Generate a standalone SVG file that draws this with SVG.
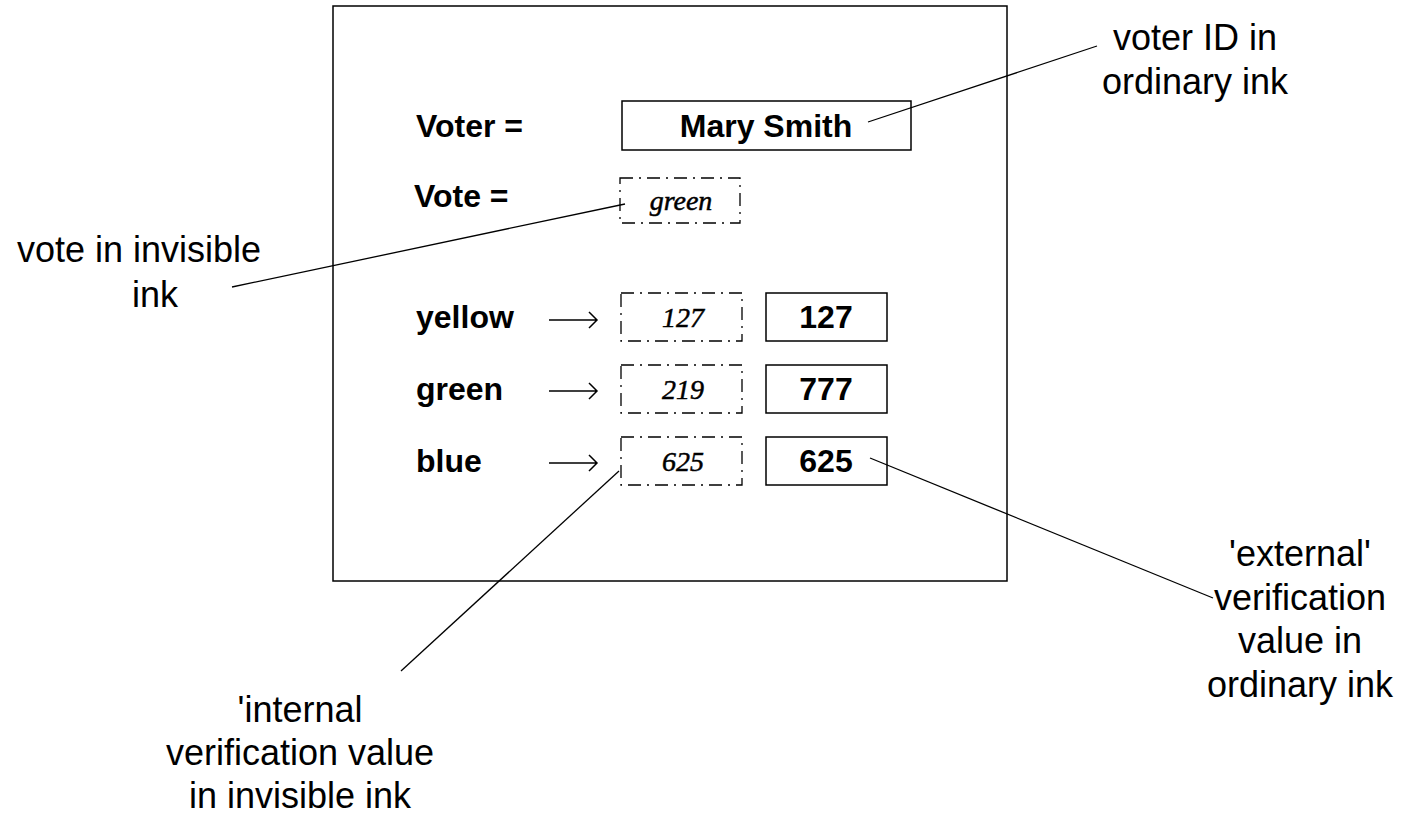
<svg xmlns="http://www.w3.org/2000/svg" width="1410" height="815" viewBox="0 0 1410 815">
  <style>
    .frame { fill: #fff; stroke: #000; stroke-width: 1.5; }
    .solid { fill: #fff; stroke: #000; stroke-width: 1.5; }
    .hidden { fill: none; stroke: #000; stroke-width: 1.3; stroke-dasharray: 13 6 2 6; }
    .lead { fill: none; stroke: #000; stroke-width: 1.3; }
    .arrow { fill: none; stroke: #000; stroke-width: 1.5; }
    .bold { font-family: "Liberation Sans", Arial, sans-serif; font-weight: bold; font-size: 32px; fill: #000; }
    .note { font-family: "Liberation Sans", Arial, sans-serif; font-size: 36px; fill: #000; text-anchor: middle; }
    .ink { font-family: "Liberation Serif", "Times New Roman", serif; font-style: italic; font-size: 28px; fill: #000; stroke: #000; stroke-width: 0.5; text-anchor: middle; }
  </style>
  <rect width="1410" height="815" fill="#fff"/>

  <!-- ballot card -->
  <g id="ballot">
    <rect class="frame" x="333" y="6" width="674" height="575"/>
  </g>

  <g id="voter">
    <text class="bold" x="416" y="137">Voter =</text>
    <rect class="solid" x="622" y="101" width="289" height="49"/>
    <text class="bold" x="766" y="137" text-anchor="middle">Mary Smith</text>
  </g>

  <g id="vote">
    <text class="bold" x="414" y="207">Vote =</text>
    <rect class="hidden" x="620" y="178" width="120" height="45"/>
    <text class="ink" x="681" y="210">green</text>
  </g>

  <g id="row-yellow">
    <text class="bold" x="416" y="328">yellow</text>
    <path class="arrow" d="M549 320 H596 M589 312 L597 320 L589 328"/>
    <rect class="hidden" x="621" y="293" width="121" height="48"/>
    <text class="ink" x="683" y="327">127</text>
    <rect class="solid" x="766" y="293" width="121" height="48"/>
    <text class="bold" x="826" y="328" text-anchor="middle">127</text>
  </g>

  <g id="row-green">
    <text class="bold" x="416" y="400">green</text>
    <path class="arrow" d="M549 391 H596 M589 383 L597 391 L589 399"/>
    <rect class="hidden" x="621" y="365" width="121" height="48"/>
    <text class="ink" x="683" y="399">219</text>
    <rect class="solid" x="766" y="365" width="121" height="48"/>
    <text class="bold" x="826" y="400" text-anchor="middle">777</text>
  </g>

  <g id="row-blue">
    <text class="bold" x="416" y="472">blue</text>
    <path class="arrow" d="M549 463 H596 M589 455 L597 463 L589 471"/>
    <rect class="hidden" x="621" y="437" width="121" height="48"/>
    <text class="ink" x="683" y="471">625</text>
    <rect class="solid" x="766" y="437" width="121" height="48"/>
    <text class="bold" x="826" y="472" text-anchor="middle">625</text>
  </g>

  <!-- callout labels -->
  <g id="label-voter-id">
    <text class="note" x="1195" y="50">voter ID in</text>
    <text class="note" x="1195" y="94">ordinary ink</text>
  </g>

  <g id="label-vote">
    <text class="note" x="139" y="262">vote in invisible</text>
    <text class="note" x="155" y="307">ink</text>
  </g>

  <g id="label-internal">
    <text class="note" x="300" y="722">'internal</text>
    <text class="note" x="300" y="765">verification value</text>
    <text class="note" x="300" y="808">in invisible ink</text>
  </g>

  <g id="label-external">
    <text class="note" x="1300" y="566">'external'</text>
    <text class="note" x="1300" y="610">verification</text>
    <text class="note" x="1300" y="653">value in</text>
    <text class="note" x="1300" y="697">ordinary ink</text>
  </g>

  <!-- leader lines -->
  <g id="connectors">
    <line class="lead" x1="868" y1="122" x2="1097" y2="46"/>
    <line class="lead" x1="625" y1="204" x2="232" y2="287"/>
    <line class="lead" x1="619" y1="471" x2="401" y2="671"/>
    <line class="lead" x1="870" y1="458" x2="1213" y2="598"/>
  </g>
</svg>
